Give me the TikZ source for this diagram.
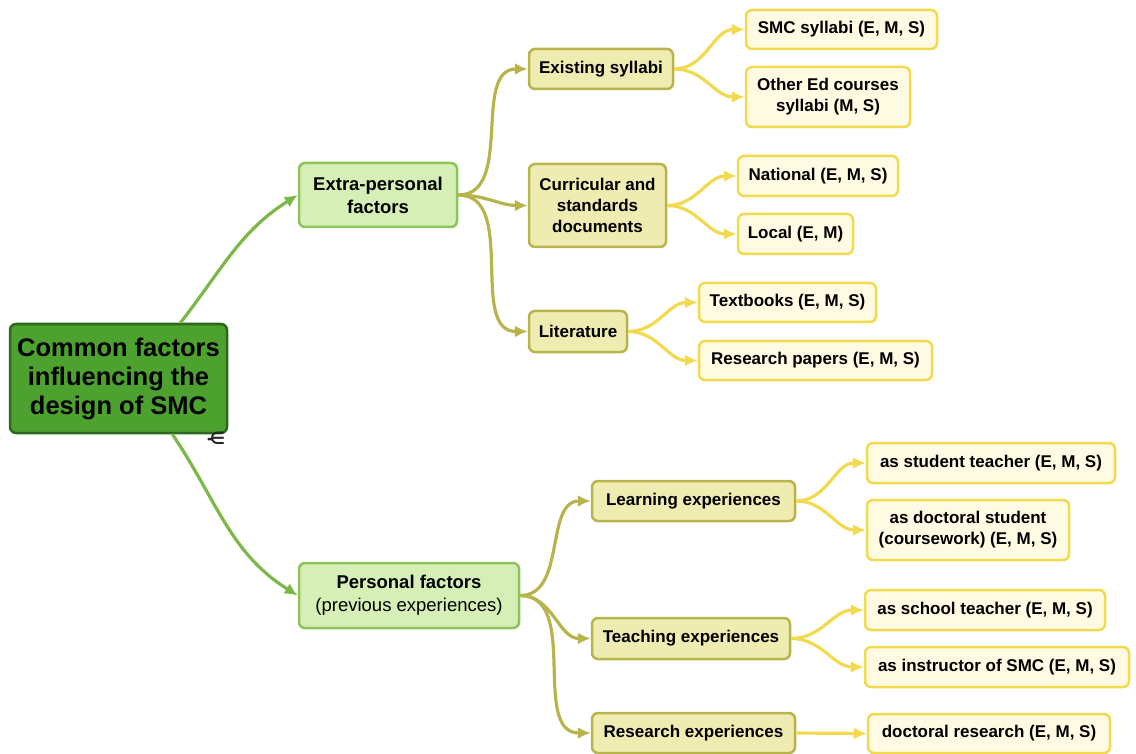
\documentclass[tikz,border=0pt]{standalone}
\usepackage{fontspec}
\setmainfont{Liberation Sans}
\usepackage{tikz}
\usetikzlibrary{shapes,arrows.meta,positioning}

\definecolor{rootfill}{RGB}{77,162,47}
\definecolor{rootline}{RGB}{44,104,30}
\definecolor{mainfill}{RGB}{214,239,182}
\definecolor{mainline}{RGB}{140,196,88}
\definecolor{mainedge}{RGB}{124,184,72}
\definecolor{subfill}{RGB}{238,236,176}
\definecolor{subline}{RGB}{184,180,76}
\definecolor{leaffill}{RGB}{255,251,226}
\definecolor{leafline}{RGB}{242,218,78}

\begin{document}
\begin{tikzpicture}[
    x=1pt, y=-1pt,
    root/.style={rectangle, rounded corners=6pt, draw=rootline, fill=rootfill, line width=2.5pt, align=center, inner sep=2pt,
        font=\fontsize{25.5}{29}\selectfont\bfseries},
    main/.style={rectangle, rounded corners=6pt, draw=mainline, fill=mainfill, line width=2.5pt, align=center, inner sep=2pt,
        font=\fontsize{18.5}{23}\selectfont},
    sub/.style={rectangle, rounded corners=6pt, draw=subline, fill=subfill, line width=2.5pt, align=center, inner sep=2pt,
        font=\fontsize{17}{21}\selectfont\bfseries},
    leaf/.style={rectangle, rounded corners=6pt, draw=leafline, fill=leaffill, line width=2.5pt, align=center, inner sep=2pt,
        font=\fontsize{17}{21}\selectfont\bfseries},
    link/.style={line width=3.2pt, -{Latex[length=13pt,width=12pt]}},
    handle/.style={text=black!85, inner sep=0pt, font=\fontsize{17}{17}\selectfont\bfseries}
]
\useasboundingbox (0,0) rectangle (1136,754);

% Root
\node[root, minimum width=217, minimum height=109] (root) at (118.5,378.5) {Common factors\\influencing the\\design of SMC};
\node[handle] (fold) at (216,438) {\fontspec{DejaVu Sans}-\kern-0.25em∈};

% First level
\node[main, minimum width=158, minimum height=64] (extra) at (378,195) {\textbf{Extra-personal}\\\textbf{factors}};
\node[main, minimum width=220, minimum height=65] (personal) at (409,595.5) {\textbf{Personal factors}\\(previous experiences)};

% Second level
\node[sub, minimum width=144, minimum height=40] (existing) at (601,69) {Existing syllabi};
\node[sub, minimum width=137, minimum height=83] (curricular) at (597.5,205.5) {Curricular and\\standards\\documents};
\node[sub, minimum width=98, minimum height=41] (literature) at (578,331.5) {Literature};
\node[sub, minimum width=203, minimum height=40] (learning) at (693.5,501) {Learning experiences};
\node[sub, minimum width=198, minimum height=41] (teaching) at (691,638.5) {Teaching experiences};
\node[sub, minimum width=203, minimum height=40] (research) at (693.5,733) {Research experiences};

% Third level
\node[leaf, minimum width=191, minimum height=39] (smc) at (841.5,29.5) {SMC syllabi (E, M, S)};
\node[leaf, minimum width=164, minimum height=60] (othered) at (828,97) {Other Ed courses\\syllabi (M, S)};
\node[leaf, minimum width=160, minimum height=40] (national) at (818,176) {National (E, M, S)};
\node[leaf, minimum width=115, minimum height=40] (local) at (795.5,234) {Local (E, M)};
\node[leaf, minimum width=177, minimum height=39] (textbooks) at (787.5,302.5) {Textbooks (E, M, S)};
\node[leaf, minimum width=233, minimum height=39] (papers) at (815.5,360.5) {Research papers (E, M, S)};
\node[leaf, minimum width=248, minimum height=40] (studteach) at (991,463) {as student teacher (E, M, S)};
\node[leaf, minimum width=202, minimum height=60] (docstud) at (968,530) {as doctoral student\\(coursework) (E, M, S)};
\node[leaf, minimum width=240, minimum height=40] (schoolteach) at (985,610) {as school teacher (E, M, S)};
\node[leaf, minimum width=264, minimum height=40] (instructor) at (997,667) {as instructor of SMC (E, M, S)};
\node[leaf, minimum width=242, minimum height=39] (docresearch) at (989,733.5) {doctoral research (E, M, S)};

% Root to first level
\draw[link, mainedge] (root.42) to[out=52,in=212] (extra.west);
\draw[link, mainedge] (root.-46) to[out=-56,in=148] (personal.west);

% First to second level
\foreach \kid in {existing, curricular, literature}
    \draw[link, subline] (extra.east) to[out=0,in=180] (\kid.west);
\foreach \kid in {learning, teaching, research}
    \draw[link, subline] (personal.east) to[out=0,in=180] (\kid.west);

% Second to third level
\draw[link, leafline] (existing.east) to[out=0,in=180] (smc.west);
\draw[link, leafline] (existing.east) to[out=0,in=180] (othered.west);
\draw[link, leafline] (curricular.east) to[out=0,in=180] (national.west);
\draw[link, leafline] (curricular.east) to[out=0,in=180] (local.west);
\draw[link, leafline] (literature.east) to[out=0,in=180] (textbooks.west);
\draw[link, leafline] (literature.east) to[out=0,in=180] (papers.west);
\draw[link, leafline] (learning.east) to[out=0,in=180] (studteach.west);
\draw[link, leafline] (learning.east) to[out=0,in=180] (docstud.west);
\draw[link, leafline] (teaching.east) to[out=0,in=180] (schoolteach.west);
\draw[link, leafline] (teaching.east) to[out=0,in=180] (instructor.west);
\draw[link, leafline] (research.east) -- (docresearch.west);

\end{tikzpicture}
\end{document}
